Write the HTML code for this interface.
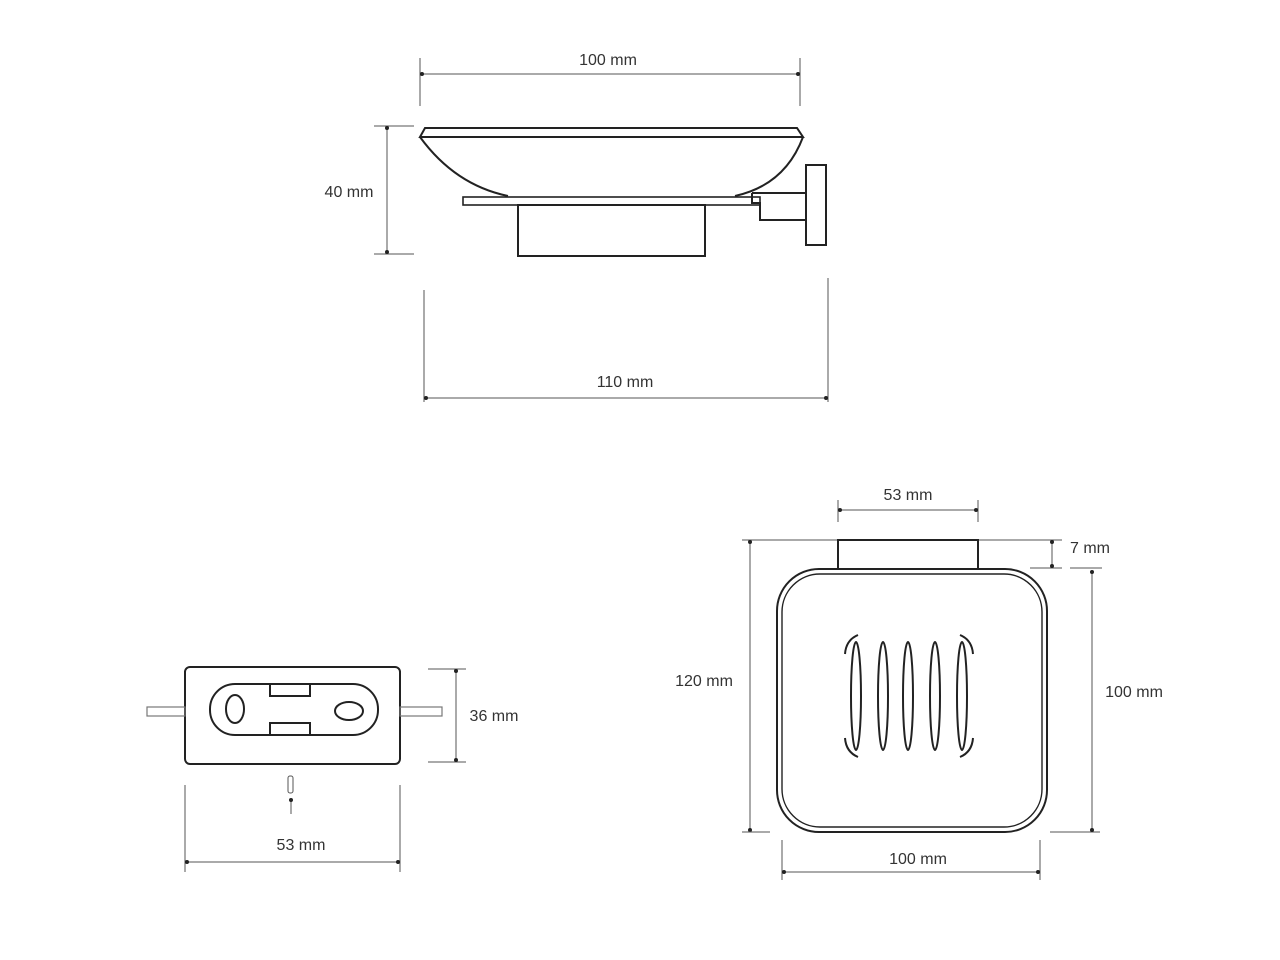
<!DOCTYPE html>
<html><head><style>body{margin:0;background:#fff}svg{display:block}text{font-family:"Liberation Sans",sans-serif;font-size:16px;fill:#333}</style></head><body>
<svg width="1280" height="960" viewBox="0 0 1280 960" xmlns="http://www.w3.org/2000/svg">
<defs><marker id="a" viewBox="0 0 10 10" refX="5" refY="5" markerWidth="5" markerHeight="5" orient="auto"><circle cx="5" cy="5" r="4" fill="#222"/></marker></defs>
<g stroke="#555" stroke-width="1" fill="none">
<line x1="420" y1="58" x2="420" y2="106"/><line x1="800" y1="58" x2="800" y2="106"/>
<line x1="422" y1="74" x2="798" y2="74" marker-start="url(#a)" marker-end="url(#a)"/>
<line x1="374" y1="126" x2="414" y2="126"/><line x1="374" y1="254" x2="414" y2="254"/>
<line x1="387" y1="128" x2="387" y2="252" marker-start="url(#a)" marker-end="url(#a)"/>
<line x1="424" y1="290" x2="424" y2="402"/><line x1="828" y1="278" x2="828" y2="402"/>
<line x1="426" y1="398" x2="826" y2="398" marker-start="url(#a)" marker-end="url(#a)"/>
<line x1="428" y1="669" x2="466" y2="669"/><line x1="428" y1="762" x2="466" y2="762"/>
<line x1="456" y1="671" x2="456" y2="760" marker-start="url(#a)" marker-end="url(#a)"/>
<line x1="185" y1="785" x2="185" y2="872"/><line x1="400" y1="785" x2="400" y2="872"/>
<line x1="187" y1="862" x2="398" y2="862" marker-start="url(#a)" marker-end="url(#a)"/>
<line x1="291" y1="814" x2="291" y2="800" marker-end="url(#a)"/>
<rect x="288" y="776" width="5" height="17" rx="2"/>
<line x1="838" y1="500" x2="838" y2="522"/><line x1="978" y1="500" x2="978" y2="522"/>
<line x1="840" y1="510" x2="976" y2="510" marker-start="url(#a)" marker-end="url(#a)"/>
<line x1="742" y1="540" x2="1062" y2="540"/><line x1="1030" y1="568" x2="1062" y2="568"/><line x1="1070" y1="568" x2="1102" y2="568"/>
<line x1="1052" y1="542" x2="1052" y2="566" marker-start="url(#a)" marker-end="url(#a)"/>
<line x1="750" y1="542" x2="750" y2="830" marker-start="url(#a)" marker-end="url(#a)"/>
<line x1="742" y1="832" x2="770" y2="832"/><line x1="1050" y1="832" x2="1100" y2="832"/>
<line x1="1092" y1="572" x2="1092" y2="830" marker-start="url(#a)" marker-end="url(#a)"/>
<line x1="782" y1="840" x2="782" y2="880"/><line x1="1040" y1="840" x2="1040" y2="880"/>
<line x1="784" y1="872" x2="1038" y2="872" marker-start="url(#a)" marker-end="url(#a)"/>
</g>
<g stroke="#222" stroke-width="2" fill="none">
<path d="M425 128 L797 128 L803 137 L420 137 Z"/>
<path d="M420 137 Q455 185 508 196"/><path d="M803 137 Q785 185 735 196"/>
<rect x="463" y="197" width="297" height="8" stroke-width="1.6"/>
<rect x="518" y="205" width="187" height="51"/>
<path d="M752 193 L806 193 M752 193 L752 203 L760 203 L760 220 L806 220"/>
<rect x="806" y="165" width="20" height="80"/>
<rect x="185" y="667" width="215" height="97" rx="5"/>
<rect x="210" y="684" width="168" height="51" rx="25"/>
<rect x="270" y="684" width="40" height="12" fill="#fff"/>
<rect x="270" y="723" width="40" height="12" fill="#fff"/>
<ellipse cx="235" cy="709" rx="9" ry="14"/>
<ellipse cx="349" cy="711" rx="14" ry="9"/>
<rect x="147" y="707" width="38" height="9" stroke-width="1.2" stroke="#777"/>
<rect x="400" y="707" width="42" height="9" stroke-width="1.2" stroke="#777"/>
<rect x="838" y="540" width="140" height="29"/>
<rect x="777" y="569" width="270" height="263" rx="42"/>
<rect x="782" y="574" width="260" height="253" rx="38" stroke-width="1.4"/>
<ellipse cx="856" cy="696" rx="5" ry="54"/>
<ellipse cx="883" cy="696" rx="5" ry="54"/>
<ellipse cx="908" cy="696" rx="5" ry="54"/>
<ellipse cx="935" cy="696" rx="5" ry="54"/>
<ellipse cx="962" cy="696" rx="5" ry="54"/>
<path d="M858 635 Q846 640 845 654"/><path d="M845 738 Q846 752 858 757"/>
<path d="M960 635 Q972 640 973 654"/><path d="M973 738 Q972 752 960 757"/>
</g>
<text x="608" y="65" text-anchor="middle">100 mm</text>
<text x="349" y="197" text-anchor="middle">40 mm</text>
<text x="625" y="387" text-anchor="middle">110 mm</text>
<text x="494" y="721" text-anchor="middle">36 mm</text>
<text x="301" y="850" text-anchor="middle">53 mm</text>
<text x="908" y="500" text-anchor="middle">53 mm</text>
<text x="1090" y="553" text-anchor="middle">7 mm</text>
<text x="704" y="686" text-anchor="middle">120 mm</text>
<text x="1134" y="697" text-anchor="middle">100 mm</text>
<text x="918" y="864" text-anchor="middle">100 mm</text>
</svg>
</body></html>
